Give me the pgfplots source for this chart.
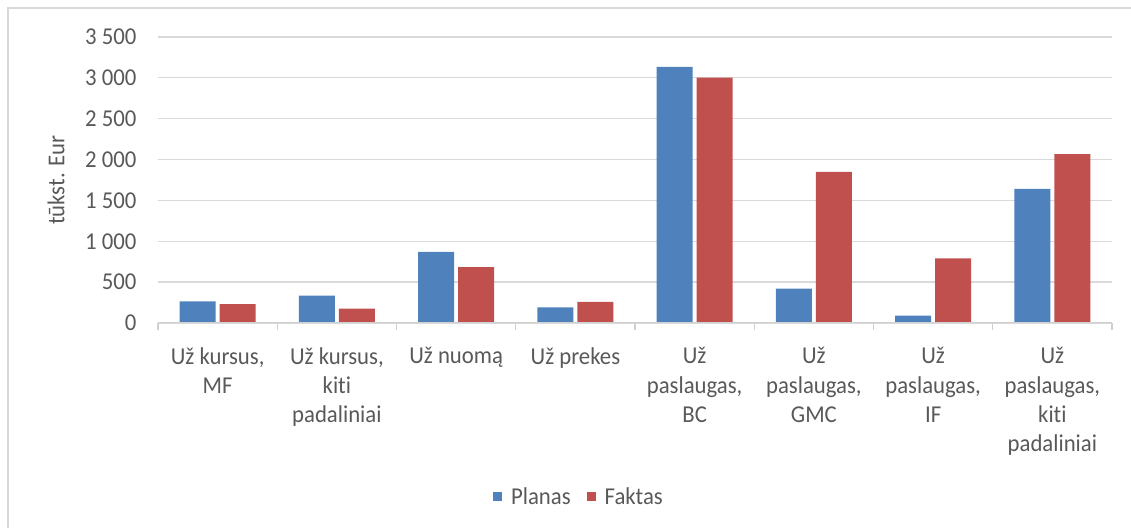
\documentclass[border=0pt]{standalone}
\usepackage{fontspec}
\setmainfont{Carlito}[FakeStretch=0.94, Ligatures={NoCommon}]
\usepackage{pgfplots}
\pgfplotsset{compat=1.18}
\definecolor{barblue}{HTML}{4F81BD}
\definecolor{barred}{HTML}{C0504D}
\definecolor{txtgray}{HTML}{595959}
\definecolor{gridgray}{HTML}{D9D9D9}
\definecolor{axisgray}{HTML}{D0D0D0}
\newcommand{\chartfont}{\fontsize{24.2bp}{29.2bp}\selectfont}
\begin{document}
\begin{tikzpicture}[x=1bp,y=1bp]
\useasboundingbox (0,0) rectangle (1131,528);
\draw[gridgray, line width=1.3bp] (8,0) -- (8,520) -- (1131,520);
\begin{axis}[
  at={(158bp,205bp)}, anchor=south west,
  scale only axis, width=954bp, height=286bp,
  ybar=4bp, bar width=36bp,
  ymin=0, ymax=3500, ytick={0,500,...,3500},
  xmin=-0.5, xmax=7.5,
  xtick={0,...,7},
  minor xtick={-0.5,0.5,...,7.5},
  xticklabels={{Už kursus,\\MF},{Už kursus,\\kiti\\padaliniai},{Už nuomą},{Už prekes},{Už\\paslaugas,\\BC},{Už\\paslaugas,\\GMC},{Už\\paslaugas,\\IF},{Už\\paslaugas,\\kiti\\padaliniai}},
  axis lines*=left,
  y axis line style={draw=none},
  x axis line style={draw=none},
  major tick length=0pt,
  minor tick length=7.5bp,
  tick align=outside,
  ytick style={draw=none},
  xtick style={draw=none},
  minor x tick style={draw=axisgray, line width=1.3bp},
  ymajorgrids,
  grid style={draw=gridgray, line width=1.3bp},
  scaled y ticks=false,
  /pgf/number format/assume math mode=true,
  /pgf/number format/1000 sep={\ },
  tick label style={font=\chartfont, text=txtgray},
  yticklabel style={xshift=-18bp},
  xticklabel style={align=center, yshift=-21bp},
  ylabel={tūkst. Eur},
  every axis y label/.style={at={(axis description cs:-0.1069,0.5)}, rotate=90, anchor=center, font=\chartfont, text=txtgray},
  legend style={at={(axis description cs:0.4423,-0.608)}, anchor=center, draw=none, fill=none,
    legend columns=2, font=\chartfont, text=txtgray,
    nodes={inner sep=4bp},
    /tikz/every even column/.append style={column sep=12bp}},
  legend image code/.code={\fill[#1] (0bp,-4.5bp) rectangle (9bp,4.5bp); \path (14bp,0bp);},
]
\addplot[fill=barblue, draw=none] coordinates {(0,264) (1,334) (2,869) (3,191) (4,3133) (5,420) (6,89) (7,1640)};
\addlegendentry{Planas}
\addplot[fill=barred, draw=none] coordinates {(0,232) (1,175) (2,685) (3,257) (4,3002) (5,1848) (6,791) (7,2068)};
\addlegendentry{Faktas}
\draw[axisgray, line width=1.3bp] (rel axis cs:0,0) -- (rel axis cs:1,0);
\end{axis}
\end{tikzpicture}
\end{document}
